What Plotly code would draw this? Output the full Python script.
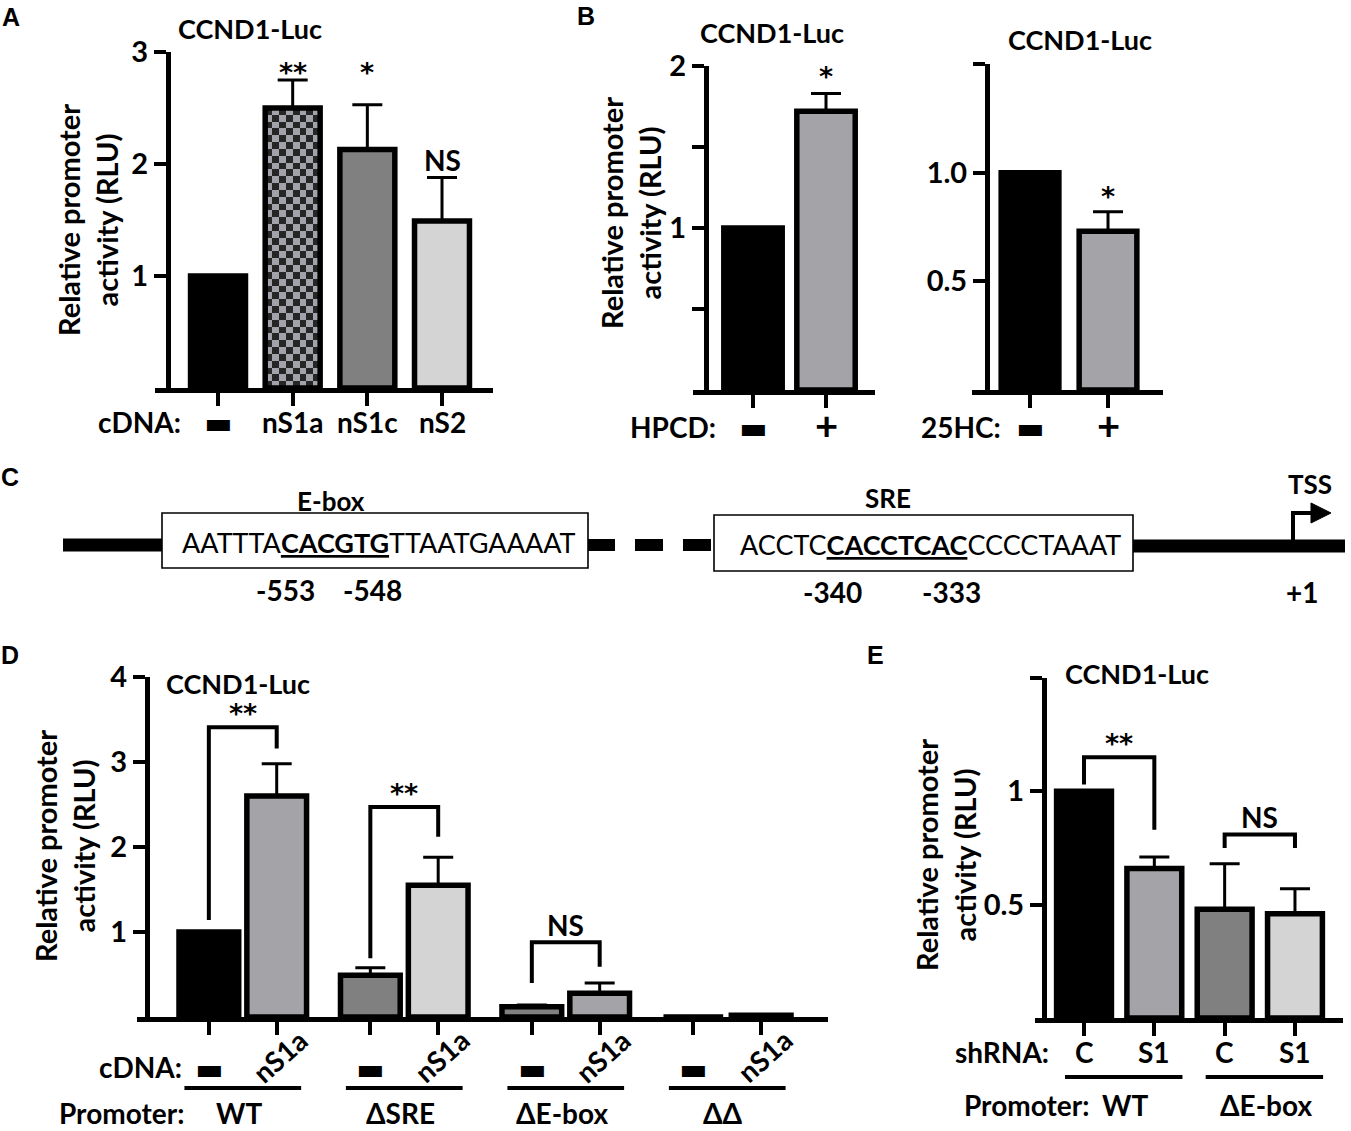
import plotly.graph_objects as go

W, H = 1351, 1131


def px(x):
    return x / W


def py(y):
    return 1 - y / H


SANS = "Lato"
STAR_FONT = "DejaVu Sans"
BLACK = "#000000"
MID = "#a3a3a8"
DARK = "#808080"
LIGHT = "#d4d4d4"
CLEAR = "rgba(0,0,0,0)"

# ---------------- data ----------------
# A: cDNA overexpression
a_cdna = ["—", "nS1a", "nS1c", "nS2"]
a_vals = [1.0, 2.50, 2.13, 1.49]
a_err = [None, 2.75, 2.53, 1.88]
a_sig = ["", "**", "*", "NS"]
a_sig_y = [None, 2.87, 2.87, 2.03]

# B: HPCD / 25HC treatment
b_treat = ["—", "+"]
hpcd_vals = [1.0, 1.72]
hpcd_err = [None, 1.83]
hpcd_sig = ["", "*"]
hpcd_sig_y = [None, 1.975]
hc_vals = [1.0, 0.73]
hc_err = [None, 0.82]
hc_sig = ["", "*"]
hc_sig_y = [None, 0.92]

# D: promoter mutants x cDNA
d_promoters = ["WT", "ΔSRE", "ΔE-box", "ΔΔ"]
d_cdna = ["—", "nS1a"]
d_vals = [1.0, 2.60, 0.49, 1.55, 0.12, 0.28, 0.0, 0.02]
d_err = [None, 2.98, 0.58, 1.88, 0.14, 0.40, None, None]
d_brackets = [(0, 1, 1.14, 3.41, 3.16, "**"),
              (2, 3, 0.69, 2.47, 2.12, "**"),
              (4, 5, 0.40, 0.88, 0.59, "NS")]

# E: shRNA knockdown
e_promoters = ["WT", "ΔE-box"]
e_shrna = ["C", "S1", "C", "S1"]
e_vals = [1.0, 0.66, 0.48, 0.46]
e_err = [None, 0.71, 0.68, 0.57]
e_brackets = [(0, 1, 1.03, 1.15, 0.83, "**"),
              (2, 3, 0.75, 0.81, 0.75, "NS")]

fig = go.Figure()
layout = {}
ann = []
shapes = []


def ax_names(n):
    s = "" if n == 1 else str(n)
    return "x" + s, "y" + s, "xaxis" + s, "yaxis" + s


def make_axes(n, xdom, ydom, yx, xrange, yrange, xticks, yticks, yticktext):
    xa, ya, xk, yk = ax_names(n)
    layout[xk] = dict(domain=[px(xdom[0]), px(xdom[1])], range=xrange, anchor=ya,
                      showline=True, linewidth=5, linecolor="black",
                      ticks="outside", ticklen=13, tickwidth=4, tickcolor="black",
                      tickvals=xticks, showticklabels=False, automargin=False,
                      showgrid=False, zeroline=False, fixedrange=True)
    layout[yk] = dict(domain=[py(ydom[0]), py(ydom[1])], range=yrange,
                      anchor="free", position=px(yx), automargin=False,
                      showline=True, linewidth=5, linecolor="black",
                      ticks="outside", ticklen=12, tickwidth=4, tickcolor="black",
                      tickvals=yticks, ticktext=yticktext,
                      tickfont=dict(family=SANS, size=29, color="black", weight="bold"),
                      showgrid=False, zeroline=False, fixedrange=True)


def bars(n, xs, vals, errs, colors, width):
    xa, ya, _, _ = ax_names(n)
    fig.add_trace(go.Bar(x=xs, y=vals, width=width, xaxis=xa, yaxis=ya,
                         marker=dict(color=colors, line=dict(color="black", width=5.5)),
                         hoverinfo="skip", showlegend=False))
    ex = [x for x, e in zip(xs, errs) if e is not None]
    ev = [v for v, e in zip(vals, errs) if e is not None]
    ep = [e - v for v, e in zip(vals, errs) if e is not None]
    fig.add_trace(go.Scatter(x=ex, y=ev, mode="markers", xaxis=xa, yaxis=ya,
                             marker=dict(size=1, color=CLEAR),
                             error_y=dict(type="data", symmetric=False, array=ep,
                                          arrayminus=[0] * len(ep), color="black",
                                          thickness=3, width=15),
                             hoverinfo="skip", showlegend=False, cliponaxis=False))


def text(x, y, s, size=26, xref="paper", yref="paper", xanchor="center",
         yanchor="middle", angle=0, family=SANS, bold=True, yshift=0, xshift=0):
    ann.append(dict(x=px(x) if xref == "paper" else x,
                    y=py(y) if yref == "paper" else y,
                    xref=xref, yref=yref, text=s, showarrow=False,
                    xanchor=xanchor, yanchor=yanchor, textangle=angle,
                    yshift=yshift, xshift=xshift,
                    font=dict(family=family, size=size, color="black",
                              weight="bold" if bold else "normal")))


def cat_label(x, xref, y, s):
    if s == "—":
        text(x, y, "▬", size=30, xref=xref, family="DejaVu Sans")
    elif s == "+":
        text(x, y, "+", size=40, xref=xref, yshift=2)
    else:
        text(x, y, s, size=28, xref=xref)


def sig_text(x, y, s, xref, yref, yanchor="middle", shift=0):
    if "*" in s:
        text(x, y, s, size=27, xref=xref, yref=yref, family=STAR_FONT,
             yanchor=yanchor, yshift=shift - 6)
    else:
        text(x, y, s, size=28, xref=xref, yref=yref, yanchor=yanchor, yshift=shift + 1)


def sig_labels(n, xs, sig, sig_y):
    xa, ya, _, _ = ax_names(n)
    for x, s, y in zip(xs, sig, sig_y):
        if s:
            sig_text(x, y, s, xa, ya)


def brackets(n, xs, specs):
    xa, ya, _, _ = ax_names(n)
    for i, j, yl, yt, yr, lab in specs:
        fig.add_trace(go.Scatter(x=[xs[i], xs[i], xs[j], xs[j]], y=[yl, yt, yt, yr],
                                 mode="lines", line=dict(color="black", width=4),
                                 xaxis=xa, yaxis=ya, hoverinfo="skip",
                                 showlegend=False, cliponaxis=False))
        sig_text((xs[i] + xs[j]) / 2, yt, lab, xa, ya, yanchor="bottom",
                 shift=2 if "*" in lab else -3)


def ytitle(x, y):
    text(x, y, "Relative promoter<br>activity (RLU)", size=29, angle=-90)


# ---------------- panel A ----------------
a_x = list(range(len(a_vals)))
A_W = 0.736
make_axes(1, (155, 493), (388, 52), 168, [-0.844, 3.683], [0, 3],
          a_x, [1, 2, 3], ["1", "2", "3"])

# checkered fill for the nS1a bar
nx, ny = 8, 41
cx0 = a_x[1] - A_W / 2
dx = A_W / nx
dy = a_vals[1] / ny
fig.add_trace(go.Heatmap(
    x=[cx0 + (c + 0.5) * dx for c in range(nx)],
    y=[(r + 0.5) * dy for r in range(ny)],
    z=[[(r + c) % 2 for c in range(nx)] for r in range(ny)],
    colorscale=[[0, "#262626"], [1, "#a2a2aa"]], zmin=0, zmax=1,
    showscale=False, hoverinfo="skip", xaxis="x", yaxis="y"))
bars(1, a_x, a_vals, a_err, [BLACK, CLEAR, DARK, LIGHT], A_W)
sig_labels(1, a_x, a_sig, a_sig_y)
text(250, 28, "CCND1-Luc", size=27)
ytitle(88, 220)
text(183, 422, "cDNA:", size=28, xanchor="right")
for x, s in zip(a_x, a_cdna):
    cat_label(x, "x", 422, s)

# ---------------- panel B ----------------
b_x = [0, 1]
make_axes(2, (693, 875), (390, 66), 706, [-0.822, 1.671], [0, 2],
          b_x, [0.5, 1, 1.5, 2], ["", "1", "", "2"])
bars(2, b_x, hpcd_vals, hpcd_err, [BLACK, MID], 0.80)
sig_labels(2, b_x, hpcd_sig, hpcd_sig_y)
text(772, 33, "CCND1-Luc", size=27)
ytitle(631, 213)
text(718, 427, "HPCD:", size=28, xanchor="right")
for x, s in zip(b_x, b_treat):
    cat_label(x, "x2", 427, s)

make_axes(3, (972, 1163), (390, 64), 987, [-0.744, 1.705], [0, 1.5],
          b_x, [0.5, 1.0, 1.5], ["0.5", "1.0", ""])
bars(3, b_x, hc_vals, hc_err, [BLACK, MID], 0.74)
sig_labels(3, b_x, hc_sig, hc_sig_y)
text(1080, 40, "CCND1-Luc", size=27)
text(1003, 427, "25HC:", size=28, xanchor="right")
for x, s in zip(b_x, b_treat):
    cat_label(x, "x3", 427, s)

# ---------------- panel C (promoter schematic) ----------------
def seg(x0, y0, x1, y1, w):
    shapes.append(dict(type="line", xref="paper", yref="paper",
                       x0=px(x0), y0=py(y0), x1=px(x1), y1=py(y1),
                       line=dict(color="black", width=w)))


def box(x0, y0, x1, y1):
    shapes.append(dict(type="rect", xref="paper", yref="paper",
                       x0=px(x0), y0=py(y0), x1=px(x1), y1=py(y1),
                       fillcolor="white", line=dict(color="black", width=1.6)))


seg(63, 545, 162, 545, 13)
seg(588, 545, 615, 545, 12)
seg(635, 545, 663, 545, 12)
seg(683, 545, 711, 545, 12)
seg(1133, 546, 1345, 546, 13)
box(162, 513, 588, 568)
box(714, 515, 1133, 571)
seg(1293, 546, 1293, 511, 4)
seg(1291, 513, 1314, 513, 4)
shapes.append(dict(type="path", xref="paper", yref="paper",
                   path="M %f %f L %f %f L %f %f Z" % (px(1311), py(503), px(1331), py(513),
                                                        px(1311), py(523)),
                   fillcolor="black", line=dict(color="black", width=1)))

text(180, 543, "AATTTA<b><u>CACGTG</u></b>TTAATGAAAAT", size=27, xanchor="left", bold=False)
text(738, 544, "ACCTC<b><u>CACCTCAC</u></b>CCCCTAAAT", size=27, xanchor="left", bold=False)
text(331, 501, "E-box", size=26)
text(888, 498, "SRE", size=26)
text(1310, 484, "TSS", size=26)
for x, s in [(285, "-553"), (373, "-548")]:
    text(x, 590, s, size=28)
for x, s in [(832, "-340"), (951, "-333"), (1302, "+1")]:
    text(x, 592, s, size=28)

# ---------------- panel D ----------------
D_STEP = 2.38
d_x = [g * D_STEP + i for g in range(len(d_promoters)) for i in range(len(d_cdna))]
make_axes(4, (137, 828), (1017, 677), 147, [-1.059, 9.125], [0, 4],
          d_x, [1, 2, 3, 4], ["1", "2", "3", "4"])
bars(4, d_x, d_vals, d_err, [BLACK, MID, DARK, LIGHT, DARK, MID, DARK, MID], 0.88)
brackets(4, d_x, d_brackets)
text(238, 683, "CCND1-Luc", size=27)
ytitle(64, 846)
text(184, 1067, "cDNA:", size=28, xanchor="right")
text(186, 1113, "Promoter:", size=28, xanchor="right")
for g, prom in enumerate(d_promoters):
    x0, x1 = d_x[2 * g], d_x[2 * g + 1]
    cat_label(x0, "x4", 1068, d_cdna[0])
    text(x1, 1056, d_cdna[1], size=28, xref="x4", angle=-42, xshift=3)
    shapes.append(dict(type="line", xref="x4", yref="paper", x0=x0 - 0.36, x1=x1 + 0.36,
                       y0=py(1088), y1=py(1088), line=dict(color="black", width=4)))
    text((x0 + x1) / 2, 1113, prom, size=28, xref="x4", xshift=-4)

# ---------------- panel E ----------------
e_x = list(range(len(e_vals)))
make_axes(5, (1035, 1343), (1018, 678), 1044, [-0.697, 3.683], [0, 1.5],
          e_x, [0.5, 1, 1.5], ["0.5", "1", ""])
bars(5, e_x, e_vals, e_err, [BLACK, MID, DARK, LIGHT], 0.78)
brackets(5, e_x, e_brackets)
text(1137, 673, "CCND1-Luc", size=27)
ytitle(945, 855)
text(1051, 1052, "shRNA:", size=28, xanchor="right")
text(1091, 1105, "Promoter:", size=28, xanchor="right")
for x, s in zip(e_x, e_shrna):
    cat_label(x, "x5", 1052, s)
for g, prom in enumerate(e_promoters):
    x0, x1 = e_x[2 * g], e_x[2 * g + 1]
    shapes.append(dict(type="line", xref="x5", yref="paper", x0=x0 - 0.27, x1=x1 + 0.4,
                       y0=py(1077), y1=py(1077), line=dict(color="black", width=4)))
    text((x0 + x1) / 2, 1105, prom, size=28, xref="x5", xshift=6)

# ---------------- panel letters ----------------
for s, x, y in [("A", 11, 17), ("B", 586, 16), ("C", 10, 477), ("D", 10, 655), ("E", 875, 655)]:
    text(x, y, s, size=25, family="Liberation Sans")

fig.update_layout(
    width=W, height=H, margin=dict(l=0, r=0, t=0, b=0, autoexpand=False),
    paper_bgcolor="white", plot_bgcolor="rgba(0,0,0,0)",
    showlegend=False, annotations=ann, shapes=shapes, **layout)

fig.write_html("out.html", config={"displayModeBar": False},
               post_script="document.body.style.margin = '0px';")
